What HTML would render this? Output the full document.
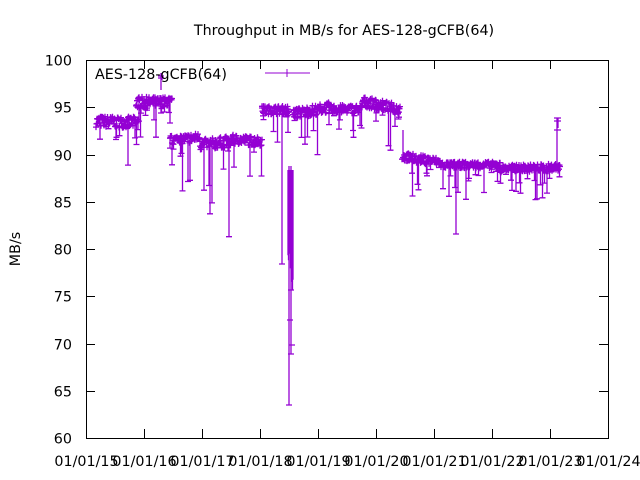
<!DOCTYPE html>
<html><head><meta charset="utf-8"><style>
body{margin:0;background:#fff;}
svg{display:block;font-family:"DejaVu Sans","Liberation Sans",sans-serif;}
</style></head><body>
<svg id="s" width="640" height="480" viewBox="0 0 640 480">
<rect width="640" height="480" fill="#fff"/>
<text x="344" y="35" font-size="14.3" text-anchor="middle">Throughput in MB/s for AES-128-gCFB(64)</text>
<text transform="translate(20,249) rotate(-90)" font-size="14.3" text-anchor="middle">MB/s</text>
<g id="ax" stroke="#000" stroke-width="1" fill="none"></g>
<g id="lab" font-size="14.3"></g>
<g id="data" stroke="#9400D3" stroke-width="1" fill="none"></g>
<text x="95" y="79" font-size="14.3">AES-128-gCFB(64)</text>
<line x1="265" y1="73" x2="310" y2="73" stroke="#9400D3"/>
<line x1="287" y1="69" x2="287" y2="77" stroke="#9400D3"/>
<rect x="86.5" y="60.5" width="522" height="378" fill="none" stroke="#000"/>
</svg>
<script>
var NS="http://www.w3.org/2000/svg";
function Y(v){return 60+(100-v)*9.45;}
var ax=document.getElementById('ax'),lab=document.getElementById('lab'),d=document.getElementById('data');
function el(p,tag,a,t){var e=document.createElementNS(NS,tag);for(var k in a)e.setAttribute(k,a[k]);if(t)e.textContent=t;p.appendChild(e);return e;}
for(var v=60;v<=100;v+=5){var y=Math.round(Y(v))+.5;
 el(ax,'line',{x1:86,y1:y,x2:95,y2:y});el(ax,'line',{x1:608,y1:y,x2:599,y2:y});
 el(lab,'text',{x:72,y:y+5,'text-anchor':'end'},String(v));}
var xl=['01/01/15','01/01/16','01/01/17','01/01/18','01/01/19','01/01/20','01/01/21','01/01/22','01/01/23','01/01/24'];
for(var i=0;i<10;i++){var x=Math.round(86+i*58)+.5;
 el(ax,'line',{x1:x,y1:438,x2:x,y2:429});el(ax,'line',{x1:x,y1:60,x2:x,y2:69});
 el(lab,'text',{x:x,y:466,'text-anchor':'middle'},xl[i]);}
var seed=7;function r(){seed=(seed*16807)%2147483647;return (seed-1)/2147483646;}
var segs=[[96,138,93.5,93.4,1.2,3],[136,172,95.5,95.5,1.2,2.5],[170,200,91.5,91.8,1.0,4],[200,232,91,91.4,1.2,5],[232,262,91.6,91.4,1.0,3],
[262,289,94.7,94.7,0.9,2],[293,330,94.3,95,1.1,2.5],[330,362,94.8,94.8,0.9,2.5],[362,400,95.6,94.8,1.1,2],
[402,440,89.8,89.2,0.9,2],[440,500,88.9,88.9,0.7,2],[500,545,88.5,88.6,0.8,2],[546,560,88.6,88.7,0.8,1.5]];
var path='';
segs.forEach(function(s){for(var x=s[0];x<=s[1];x+=0.5){var t=(x-s[0])/(s[1]-s[0]);var v=s[2]+(s[3]-s[2])*t+(r()-.5)*s[4];
 var y=Y(v);path+='M'+(x-3).toFixed(1)+' '+y.toFixed(1)+'h6M'+x.toFixed(1)+' '+(y-3).toFixed(1)+'v6';
 if(r()<0.18){var dv=r()*r()*s[5]*2.2;var y2=Y(v-dv);path+='M'+x.toFixed(1)+' '+y.toFixed(1)+'V'+y2.toFixed(1)+'M'+(x-3).toFixed(1)+' '+y2.toFixed(1)+'h6';}}});
path+='M161 90V73M158 76h6M158 78h6M162 80V73';
for(var x=288;x<=293;x+=0.5){var v=80-r()*6;path+='M'+x+' 170V'+Y(v).toFixed(1);}
path+='M289 166V405M286 405h6M291 166V354M288 354h6M288 290h6M289 345h6M287 320h6';
path+='M282 110V264M279 264h6M456 168V234M453 234h6M403 130V160';
path+='M557 168V118M554 118h7M554 121h7M558 118V128M554 130h7';
el(d,'path',{d:path,'stroke-width':'1.3'});
</script>
</body></html>
